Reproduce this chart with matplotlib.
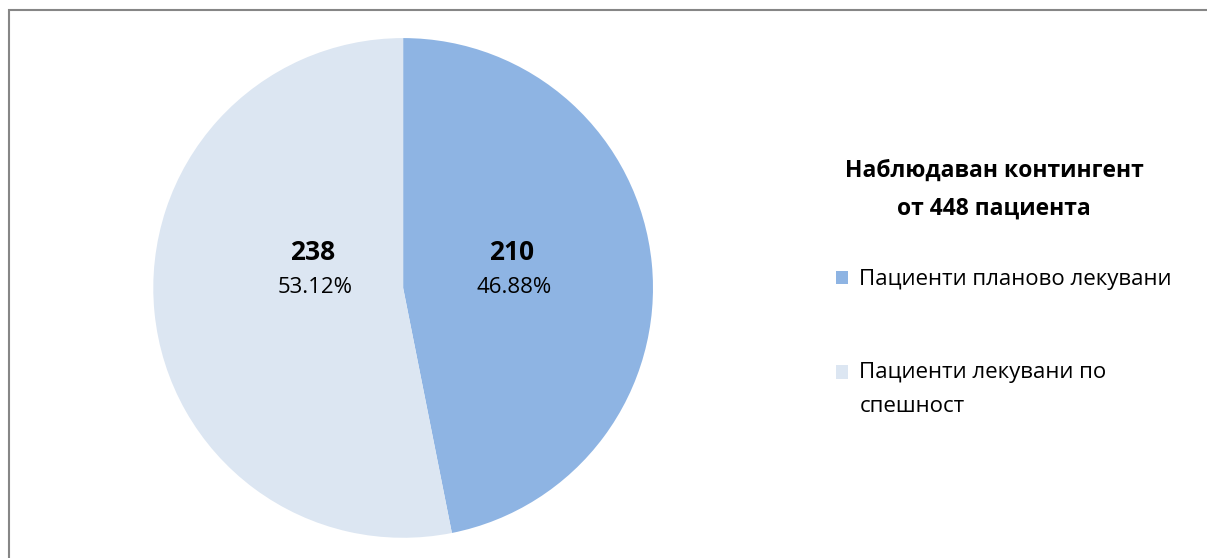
import matplotlib.pyplot as plt
from matplotlib.patches import Rectangle
from matplotlib.legend_handler import HandlerPatch
import numpy as np

plt.rcParams['font.family'] = ['Open Sans', 'DejaVu Sans']

# данни
labels = ['Пациенти планово лекувани', 'Пациенти лекувани по\nспешност']
values = [210, 238]
colors = ['#8EB4E3', '#DCE6F2']
legend_title = 'Наблюдаван контингент\nот 448 пациента'

total = sum(values)
fs = 16
lsp = 1.8


class TopHandler(HandlerPatch):
    # квадратчето да стои до първия ред на многоредов надпис
    def __init__(self, shift=0, **kw):
        super().__init__(**kw)
        self.shift = shift

    def create_artists(self, legend, orig_handle, xdescent, ydescent,
                       width, height, fontsize, trans):
        p = Rectangle((-xdescent, -ydescent + self.shift), width, height,
                      facecolor=orig_handle.get_facecolor(), edgecolor='none',
                      transform=trans)
        return [p]


fig = plt.figure(figsize=(12.07, 5.58), dpi=100)
ax = fig.add_axes([0.127, 0.036, 0.414, 0.896])

wedges, _ = ax.pie(values, colors=colors, startangle=90, counterclock=False,
                   radius=1, wedgeprops=dict(linewidth=0))
ax.set_xlim(-1, 1)
ax.set_ylim(-1, 1)
ax.set_aspect('equal')

# надписи в резените
for w, v in zip(wedges, values):
    mid = np.deg2rad((w.theta1 + w.theta2) / 2)
    x = 0.40 * np.cos(mid) + 0.035
    y = 0.063
    ax.text(x, y + 0.025, f'{v}', ha='center', va='bottom', fontsize=19, fontweight='bold')
    ax.text(x + 0.01, y - 0.02, f'{v / total * 100:.2f}%', ha='center', va='top', fontsize=16)

# легенда
fig.text(994 / 1207, 0.6595, legend_title, ha='center', va='center',
         fontsize=16.5, fontweight='bold', multialignment='center', linespacing=1.75)

hmap = {}
for w, lab in zip(wedges, labels):
    n = lab.count('\n')
    hmap[w] = TopHandler(shift=n * 0.5 * fs * lsp * 0.9)

leg = fig.legend(wedges, labels, loc='center left',
                 bbox_to_anchor=(836 / 1207, 0.385), frameon=False,
                 fontsize=fs, handlelength=0.55, handleheight=0.55,
                 handletextpad=0.5, labelspacing=3.25, borderpad=0,
                 borderaxespad=0, handler_map=hmap)
for t in leg.get_texts():
    t.set_linespacing(lsp)

# рамка около диаграмата
fig.patches.append(Rectangle((8.5 / 1207, -0.1), 1.2, (558 - 9.5) / 558 + 0.1,
                             transform=fig.transFigure, fill=False,
                             edgecolor='#868686', linewidth=1.5))

fig.savefig('out.png', dpi=100)
